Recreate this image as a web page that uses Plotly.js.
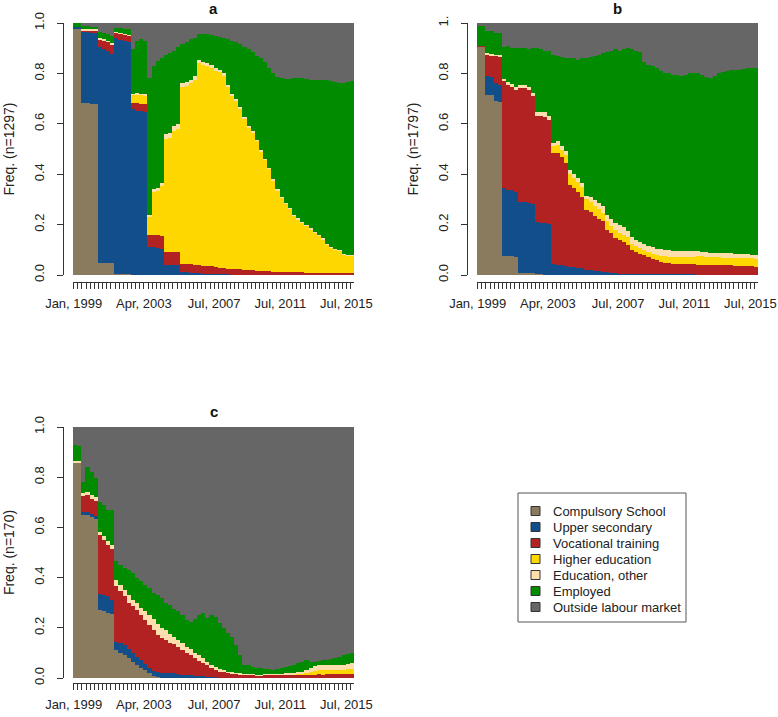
<!DOCTYPE html>
<html>
<head>
<meta charset="utf-8">
<script src="https://cdn.plot.ly/plotly-3.0.1.min.js"></script>
<style>html,body{margin:0;padding:0;background:#fff;}#chart{width:778px;height:717px;}</style>
</head>
<body>
<div id="chart"></div>
<script>
// States (legend order, bottom of stack first)
const stateNames = ["Compulsory School","Upper secondary","Vocational training","Higher education","Education, other","Employed","Outside labour market"];
const stateColors = ["#8A7A5E","#124E89","#B22222","#FFD700","#FFDEAD","#008B00","#666666"];

// Time axis: monthly sequence Jan 1999 .. Dec 2015 (204 months); values read per quarter (68 quarters)
const tickMonths = [0, 51, 102, 150, 198];
const tickLabels = ["Jan, 1999", "Apr, 2003", "Jul, 2007", "Jul, 2011", "Jul, 2015"];

// ---------- Panel a (n=1297) ----------
const aCompulsory = [.975,.975,.683,.683,.68,.68,.048,.048,.048,.048,.005,.004,.003,.003,.002,.002,.002,.002,0,0,0,0,0,0,0,0,0,0,0,0,0,0,0,0,0,0,0,0,0,0,0,0,0,0,0,0,0,0,0,0,0,0,0,0,0,0,0,0,0,0,0,0,0,0,0,0,0,0];
const aUpper = [.01,.01,.28,.28,.28,.28,.857,.85,.84,.83,.935,.93,.925,.92,.655,.65,.648,.645,.11,.11,.108,.105,.04,.04,.04,.038,.01,.01,.008,.007,.006,.005,.005,.004,.004,.003,.003,.003,.002,.002,.002,.002,.002,.002,.001,.001,.001,.001,.001,.001,.001,.001,.001,0,0,0,0,0,0,0,0,0,0,0,0,0,0,0];
const aVocational = [0,0,.005,.005,.007,.007,.028,.032,.035,.035,.02,.022,.025,.025,.027,.03,.03,.03,.05,.05,.05,.05,.05,.05,.05,.052,.035,.033,.034,.033,.032,.032,.03,.03,.026,.025,.025,.022,.021,.02,.02,.018,.018,.016,.016,.015,.014,.013,.012,.012,.012,.012,.011,.01,.01,.01,.009,.009,.008,.008,.008,.008,.007,.007,.007,.007,.006,.006];
const aHigher = [0,0,0,0,0,0,0,0,0,0,0,0,0,0,.03,.033,.033,.035,.07,.17,.177,.2,.45,.455,.48,.49,.70,.707,.718,.735,.802,.798,.795,.786,.78,.777,.762,.72,.687,.668,.638,.60,.565,.547,.513,.474,.44,.406,.362,.322,.292,.267,.248,.223,.21,.195,.184,.171,.159,.145,.132,.112,.10,.093,.087,.073,.068,.068];
const aEduOther = [0,0,.007,.007,.008,.008,.007,.007,.007,.007,.005,.005,.005,.005,.006,.007,.007,.006,.01,.012,.012,.012,.02,.02,.02,.018,.015,.015,.015,.015,.012,.012,.012,.012,.01,.01,.01,.01,.01,.01,.008,.008,.008,.007,.007,.007,.006,.006,.006,.006,.006,.006,.006,.006,.006,.005,.005,.005,.005,.005,.005,.005,.005,.005,.004,.004,.004,.004];
const aEmployed = [.015,.015,.015,.012,.01,.01,.025,.025,.025,.03,.015,.019,.02,.022,.175,.208,.215,.212,.54,.488,.503,.493,.315,.315,.30,.307,.155,.16,.16,.15,.103,.111,.113,.12,.13,.13,.14,.18,.21,.225,.247,.277,.302,.313,.333,.363,.384,.394,.419,.444,.469,.492,.512,.541,.554,.57,.58,.59,.603,.617,.63,.65,.658,.66,.662,.676,.687,.692];
const aOutside = [0,0,.01,.013,.015,.015,.035,.038,.045,.05,.02,.02,.022,.025,.105,.07,.065,.07,.22,.17,.15,.14,.125,.12,.11,.095,.085,.075,.065,.06,.045,.042,.045,.048,.05,.055,.06,.065,.07,.075,.085,.095,.105,.115,.13,.14,.155,.18,.20,.215,.22,.222,.222,.22,.22,.22,.222,.225,.225,.225,.225,.225,.23,.235,.24,.24,.235,.23];

// ---------- Panel b (n=1797) ----------
const bCompulsory = [.905,.905,.716,.716,.69,.685,.074,.074,.074,.072,.008,.008,.008,.007,.004,.003,.002,.002,0,0,0,0,0,0,0,0,0,0,0,0,0,0,0,0,0,0,0,0,0,0,0,0,0,0,0,0,0,0,0,0,0,0,0,0,0,0,0,0,0,0,0,0,0,0,0,0,0,0];
const bUpper = [0,0,.074,.07,.07,.07,.27,.265,.262,.258,.282,.28,.277,.275,.206,.205,.204,.202,.042,.04,.038,.036,.032,.03,.028,.027,.02,.018,.016,.014,.012,.01,.008,.007,.005,.005,.005,.005,.005,.005,.005,.005,.005,.005,.005,.005,.003,.003,.003,.003,.003,.003,.003,0,0,0,0,0,0,0,0,0,0,0,0,0,0,0];
const bVocational = [.005,.005,.085,.085,.11,.112,.425,.415,.41,.405,.452,.455,.45,.428,.42,.422,.422,.41,.443,.445,.43,.41,.326,.315,.3,.283,.238,.232,.219,.208,.201,.17,.157,.141,.135,.125,.115,.095,.085,.08,.073,.065,.06,.053,.047,.043,.043,.042,.041,.041,.04,.04,.039,.041,.04,.04,.039,.039,.038,.038,.038,.038,.037,.036,.035,.034,.034,.033];
const bHigher = [0,0,0,0,0,0,0,0,0,0,0,0,0,0,0,0,0,0,.025,.03,.03,.03,.042,.04,.04,.04,.042,.04,.04,.04,.035,.035,.03,.03,.028,.03,.03,.025,.025,.023,.022,.02,.02,.022,.025,.027,.027,.026,.026,.026,.027,.029,.031,.033,.034,.032,.032,.031,.032,.031,.03,.03,.03,.031,.032,.033,.032,.032];
const bEduOther = [0,0,.005,.005,.005,.005,.01,.012,.012,.012,.012,.012,.012,.012,.015,.018,.017,.016,.015,.015,.015,.015,.015,.015,.017,.017,.015,.018,.023,.023,.024,.025,.027,.027,.032,.03,.025,.027,.025,.024,.025,.026,.025,.025,.025,.025,.025,.025,.024,.024,.024,.023,.022,.02,.019,.018,.017,.017,.017,.018,.019,.018,.018,.017,.016,.015,.014,.013];
const bEmployed = [.08,.08,.09,.094,.085,.088,.126,.144,.142,.153,.146,.145,.148,.178,.255,.247,.245,.26,.35,.34,.352,.369,.445,.46,.47,.493,.545,.557,.572,.59,.608,.645,.668,.69,.69,.705,.725,.743,.75,.753,.72,.719,.72,.715,.708,.70,.702,.699,.701,.696,.701,.705,.705,.706,.702,.695,.692,.703,.713,.718,.723,.726,.73,.731,.735,.738,.74,.742];
const bOutside = [.01,.01,.03,.03,.04,.04,.095,.09,.1,.1,.1,.1,.105,.1,.1,.105,.11,.11,.125,.13,.135,.14,.14,.14,.145,.14,.14,.135,.13,.125,.12,.115,.11,.105,.11,.105,.1,.105,.11,.115,.155,.165,.17,.18,.19,.2,.2,.205,.205,.21,.205,.2,.2,.2,.205,.215,.22,.21,.2,.195,.19,.188,.185,.185,.182,.18,.18,.18];

// ---------- Panel c (n=170) ----------
const cCompulsory = [.857,.857,.65,.648,.64,.632,.27,.265,.258,.255,.11,.1,.09,.08,.065,.05,.04,.03,.02,.008,.004,.002,0,0,0,0,0,0,0,0,0,0,0,0,0,0,0,0,0,0,0,0,0,0,0,0,0,0,0,0,0,0,0,0,0,0,0,0,0,0,0,0,0,0,0,0,0,0];
const cUpper = [0,0,.012,.012,.015,.015,.065,.065,.067,.055,.035,.04,.04,.035,.035,.035,.03,.025,.02,.02,.018,.018,.02,.018,.018,.015,.013,.012,.01,.008,.007,.006,.005,.004,.003,.002,.002,.001,0,0,0,0,0,0,0,0,0,0,0,0,0,0,0,0,0,0,0,0,0,.002,0,0,0,0,0,0,0,0];
const cVocational = [0,0,.063,.07,.06,.058,.235,.22,.205,.205,.22,.205,.195,.185,.185,.185,.18,.175,.17,.162,.148,.14,.13,.122,.117,.11,.1,.088,.08,.07,.06,.052,.045,.036,.027,.023,.02,.017,.015,.014,.012,.01,.01,.01,.008,.008,.01,.01,.01,.012,.012,.012,.012,.012,.012,.012,.013,.013,.013,.012,.013,.014,.014,.015,.015,.015,.015,.015];
const cHigher = [0,0,0,0,0,0,0,0,0,0,0,0,0,0,0,0,0,0,0,0,0,0,0,0,0,0,0,0,0,0,0,0,0,0,0,0,0,0,0,0,0,0,0,0,0,0,0,0,0,0,0,0,0,0,.002,.003,.005,.01,.015,.016,.017,.016,.016,.017,.017,.018,.02,.02];
const cEduOther = [.008,.008,.012,.012,.015,.015,.013,.015,.015,.015,.025,.025,.025,.03,.025,.03,.03,.035,.04,.045,.045,.04,.04,.035,.03,.028,.027,.025,.025,.022,.023,.022,.015,.012,.012,.01,.008,.007,.007,.006,.006,.005,.005,.004,.004,.004,.004,.004,.004,.004,.005,.006,.006,.007,.008,.01,.012,.017,.02,.02,.02,.02,.02,.02,.02,.02,.022,.025];
const cEmployed = [.065,.06,.043,.098,.09,.075,.117,.125,.125,.14,.075,.08,.09,.1,.11,.1,.105,.105,.11,.105,.115,.12,.11,.115,.11,.112,.11,.105,.11,.135,.16,.18,.175,.198,.2,.185,.17,.155,.14,.11,.072,.035,.035,.03,.028,.026,.022,.02,.018,.02,.023,.026,.03,.033,.038,.04,.042,.025,.017,.018,.02,.022,.025,.028,.033,.037,.038,.04];
const cOutside = [.07,.075,.22,.16,.18,.205,.3,.31,.33,.33,.535,.55,.56,.57,.58,.6,.615,.63,.64,.66,.67,.68,.7,.71,.725,.735,.75,.77,.775,.765,.75,.74,.76,.75,.758,.78,.8,.82,.838,.87,.91,.95,.95,.956,.96,.962,.964,.966,.968,.964,.96,.956,.952,.948,.94,.935,.928,.935,.935,.932,.93,.928,.925,.92,.915,.91,.905,.9];

const panels = [
  {key:"a", n:1297, xa:"x",  ya:"y",  data:[aCompulsory,aUpper,aVocational,aHigher,aEduOther,aEmployed,aOutside]},
  {key:"b", n:1797, xa:"x2", ya:"y2", data:[bCompulsory,bUpper,bVocational,bHigher,bEduOther,bEmployed,bOutside]},
  {key:"c", n:170,  xa:"x3", ya:"y3", data:[cCompulsory,cUpper,cVocational,cHigher,cEduOther,cEmployed,cOutside]}
];

// quarter centres on the month axis (each quarter bar spans 3 months)
const nQ = aCompulsory.length;
const xq = [];
for (let q = 0; q < nQ; q++) xq.push(q * 3 + 1);

const traces = [];
panels.forEach((p, pi) => {
  p.data.forEach((vals, si) => {
    traces.push({
      type: "bar", x: xq, y: vals, width: 3,
      name: stateNames[si], legendgroup: stateNames[si], showlegend: false,
      marker: {color: stateColors[si], line: {width: 0}},
      xaxis: p.xa, yaxis: p.ya,
      hovertemplate: stateNames[si] + ": %{y:.3f}<extra></extra>"
    });
  });
});

// tick marks every 3 months, labels only at selected months
const allTicks = [], allText = [];
for (let m = 0; m < 204; m += 3) {
  allTicks.push(m);
  const k = tickMonths.indexOf(m);
  allText.push(k >= 0 ? tickLabels[k] : "");
}

const W = 778, H = 717;
const px = v => v / W, py = v => 1 - v / H;
const font = "Liberation Sans, Arial, sans-serif";

function xaxisDef(x0, x1, yPos) {
  return {
    domain: [px(x0), px(x1)], range: [-0.5, 203.5], anchor: "free", position: py(yPos),
    tickmode: "array", tickvals: allTicks, ticktext: allText,
    ticks: "outside", ticklen: 6, tickwidth: 1, tickcolor: "#333",
    showline: true, linecolor: "#333", linewidth: 1,
    showgrid: false, zeroline: false, fixedrange: true,
    tickfont: {family: font, size: 13, color: "#222"}, ticklabelstandoff: 3
  };
}
function yaxisDef(y0, y1, xPos, n, topLabel) {
  return {
    domain: [py(y1), py(y0)], range: [0, 1], anchor: "free", position: px(xPos),
    tickmode: "array", tickvals: [0, .2, .4, .6, .8, 1],
    ticktext: ["0.0", "0.2", "0.4", "0.6", "0.8", topLabel],
    tickangle: -90, ticks: "outside", ticklen: 6, tickwidth: 1, tickcolor: "#333",
    showline: true, linecolor: "#333", linewidth: 1,
    showgrid: false, zeroline: false, fixedrange: true,
    tickfont: {family: font, size: 13, color: "#222"}, ticklabelstandoff: 8,
    title: {text: "Freq. (n=" + n + ")", font: {family: font, size: 14, color: "#222"}, standoff: 12}
  };
}

// legend drawn as shapes + text (box 518-686 x 493-622 px, rows every 16 px)
const legShapes = [{type: "rect", xref: "paper", yref: "paper", x0: px(518), x1: px(686), y0: py(622), y1: py(493),
  line: {color: "#555", width: 1}, fillcolor: "#fff"}];
const legAnn = [];
stateNames.forEach((nm, i) => {
  const yc = 511 + i * 16;
  legShapes.push({type: "rect", xref: "paper", yref: "paper", x0: px(531), x1: px(540), y0: py(yc + 4.5), y1: py(yc - 4.5),
    line: {color: "#333", width: 1}, fillcolor: stateColors[i]});
  legAnn.push({text: nm, x: px(551), y: py(yc), xref: "paper", yref: "paper", xanchor: "left", yanchor: "middle",
    showarrow: false, font: {family: font, size: 13, color: "#222"}});
});

const titleFont = {family: font, size: 15, color: "#111"};
const layout = {
  width: W, height: H, margin: {l: 0, r: 0, t: 0, b: 0},
  paper_bgcolor: "#fff", plot_bgcolor: "#fff",
  barmode: "stack", bargap: 0,
  font: {family: font, color: "#222"},
  xaxis: xaxisDef(73, 354, 282),
  yaxis: yaxisDef(23, 275, 63, 1297, "1.0"),
  xaxis2: xaxisDef(477, 758, 282),
  yaxis2: yaxisDef(23, 275, 467, 1797, "1."),
  xaxis3: xaxisDef(73, 354, 683),
  yaxis3: yaxisDef(427, 678, 63, 170, "1.0"),
  showlegend: false,
  shapes: legShapes,
  annotations: [
    {text: "<b>a</b>", x: px(213.5), y: py(9), xref: "paper", yref: "paper", xanchor: "center", yanchor: "middle", showarrow: false, font: titleFont},
    {text: "<b>b</b>", x: px(617.5), y: py(9), xref: "paper", yref: "paper", xanchor: "center", yanchor: "middle", showarrow: false, font: titleFont},
    {text: "<b>c</b>", x: px(213.5), y: py(412), xref: "paper", yref: "paper", xanchor: "center", yanchor: "middle", showarrow: false, font: titleFont}
  ].concat(legAnn)
};

Plotly.newPlot("chart", traces, layout, {displayModeBar: false, staticPlot: true});
</script>
</body>
</html>
